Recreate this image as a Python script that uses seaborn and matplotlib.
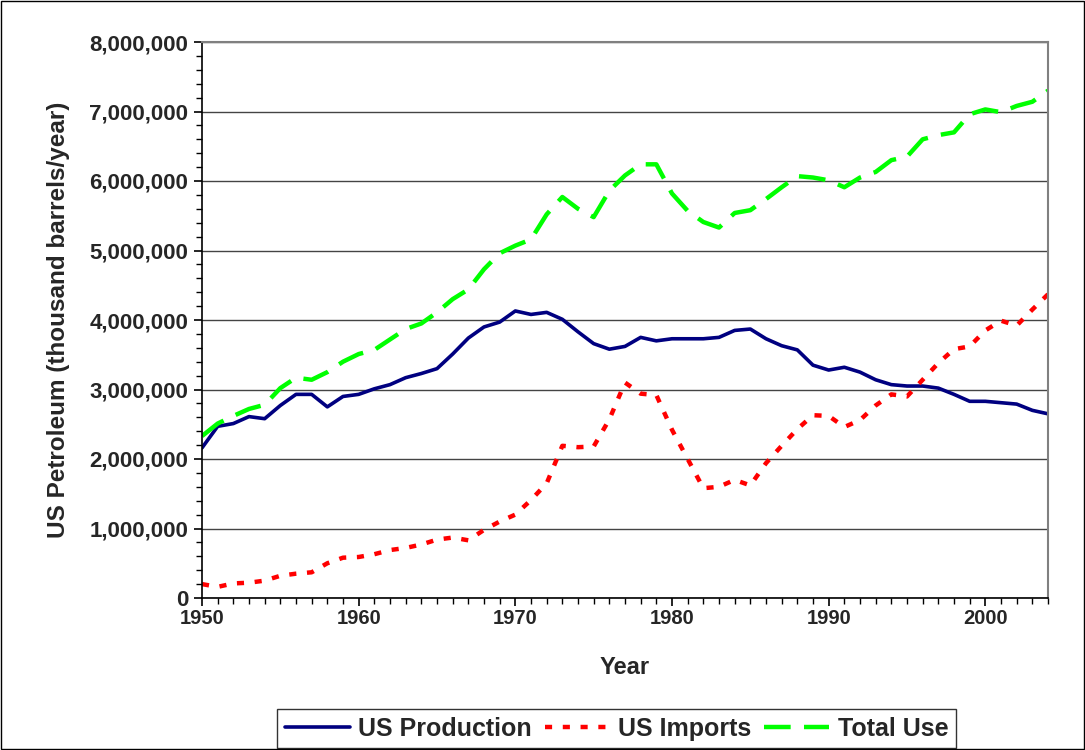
import matplotlib
matplotlib.use("Agg")
import matplotlib.pyplot as plt
import matplotlib.ticker as mticker
import seaborn as sns
import pandas as pd

# Datos (miles de barriles por año)
years = list(range(1950, 2005))

us_production = [
    2160000, 2470000, 2510000, 2610000, 2580000, 2770000, 2930000, 2930000, 2750000, 2900000,
    2930000, 3010000, 3070000, 3170000, 3230000, 3300000, 3510000, 3740000, 3900000, 3970000,
    4130000, 4080000, 4110000, 4010000, 3830000, 3660000, 3580000, 3620000, 3750000, 3700000,
    3730000, 3730000, 3730000, 3750000, 3850000, 3870000, 3730000, 3630000, 3570000, 3350000,
    3280000, 3320000, 3250000, 3140000, 3070000, 3050000, 3050000, 3020000, 2930000, 2830000,
    2830000, 2810000, 2790000, 2700000, 2650000,
]

us_imports = [
    200000, 160000, 210000, 220000, 250000, 320000, 350000, 370000, 500000, 580000,
    590000, 630000, 690000, 720000, 770000, 840000, 870000, 830000, 980000, 1100000,
    1200000, 1410000, 1650000, 2190000, 2170000, 2180000, 2570000, 3100000, 2940000, 2920000,
    2420000, 2000000, 1580000, 1600000, 1700000, 1620000, 1940000, 2190000, 2430000, 2630000,
    2620000, 2460000, 2560000, 2770000, 2930000, 2900000, 3140000, 3380000, 3580000, 3620000,
    3850000, 3990000, 3920000, 4150000, 4370000,
]

total_use = [
    2330000, 2510000, 2620000, 2720000, 2780000, 3020000, 3170000, 3140000, 3250000, 3400000,
    3510000, 3570000, 3720000, 3870000, 3950000, 4110000, 4300000, 4440000, 4730000, 4960000,
    5070000, 5160000, 5520000, 5770000, 5600000, 5480000, 5860000, 6080000, 6240000, 6240000,
    5820000, 5570000, 5410000, 5330000, 5540000, 5580000, 5740000, 5910000, 6070000, 6050000,
    6010000, 5910000, 6050000, 6130000, 6300000, 6350000, 6600000, 6660000, 6700000, 6960000,
    7030000, 6990000, 7080000, 7140000, 7300000,
]

df = pd.DataFrame({
    "Year": years,
    "US Production": us_production,
    "US Imports": us_imports,
    "Total Use": total_use,
})

sns.set_style("white")
plt.rcParams["font.family"] = ["Liberation Sans", "DejaVu Sans"]
plt.rcParams["font.weight"] = "bold"

fig = plt.figure(figsize=(10.85, 7.5), dpi=100)
ax = fig.add_axes([202 / 1085, 1 - 598 / 750, (1048 - 202) / 1085, (598 - 42) / 750])

# líneas
sns.lineplot(data=df, x="Year", y="US Production", ax=ax, color="#000080",
             linewidth=2.6, label="US Production")
sns.lineplot(data=df, x="Year", y="US Imports", ax=ax, color="#FF0000",
             linewidth=3.2, label="US Imports")
sns.lineplot(data=df, x="Year", y="Total Use", ax=ax, color="#00FF00",
             linewidth=3.2, label="Total Use")
lines = ax.get_lines()
lines[1].set_dashes([1.6, 2.4])
lines[2].set_dashes([6, 3])

ax.set_xlim(1950, 2004)
ax.set_ylim(0, 8000000)
ax.xaxis.set_major_locator(mticker.MultipleLocator(10))
ax.xaxis.set_minor_locator(mticker.MultipleLocator(1))
ax.yaxis.set_major_locator(mticker.MultipleLocator(1000000))
ax.yaxis.set_minor_locator(mticker.MultipleLocator(200000))
ax.yaxis.set_major_formatter(mticker.StrMethodFormatter("{x:,.0f}"))

ax.grid(axis="y", which="major", color="#444444", linewidth=1)
ax.set_axisbelow(True)
for s in ["top", "right"]:
    ax.spines[s].set_color("#808080")
    ax.spines[s].set_linewidth(1.5)
for s in ["left", "bottom"]:
    ax.spines[s].set_color("black")
    ax.spines[s].set_linewidth(1.2)

ax.tick_params(axis="both", which="major", direction="out", length=6, width=1.2,
               color="black", left=True, bottom=True)
ax.tick_params(axis="both", which="minor", direction="out", length=4, width=1,
               color="black", left=True, bottom=True)
ax.tick_params(axis="x", which="major", labelsize=14.5, pad=2)
ax.tick_params(axis="y", which="major", labelsize=16, pad=4)
for lab in ax.get_xticklabels() + ax.get_yticklabels():
    lab.set_fontweight("bold")

ax.set_xlabel("Year", fontsize=17, fontweight="bold", labelpad=20)
ax.set_ylabel("US Petroleum (thousand barrels/year)", fontsize=17.5, fontweight="bold", labelpad=14)

leg = ax.legend(loc="upper center", bbox_to_anchor=(0.49, -0.2), ncol=3, frameon=True,
                fancybox=False, edgecolor="black", fontsize=18, handlelength=2.6,
                handletextpad=0.35, columnspacing=0.5, borderpad=0.3, borderaxespad=0)
leg.get_frame().set_linewidth(1)
for t in leg.get_texts():
    t.set_fontweight("bold")

fig.patches.append(plt.Rectangle((0.001, 0.001), 0.998, 0.998, transform=fig.transFigure,
                                 fill=False, edgecolor="black", linewidth=1))

plt.savefig("out.png", dpi=100)
